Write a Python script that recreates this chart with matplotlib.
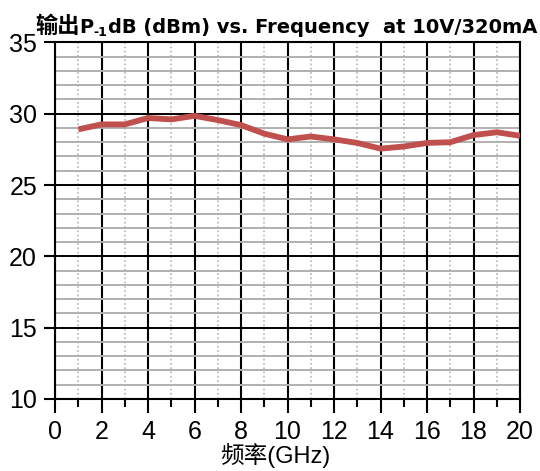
import numpy as np
import matplotlib.pyplot as plt
from matplotlib.ticker import MultipleLocator

# P-1dB readout, 1..20 GHz
freq = [1, 2, 3, 4, 5, 6, 7, 8, 9, 10, 11, 12, 13, 14, 15, 16, 17, 18, 19, 20]
p1db = [28.9, 29.25, 29.25, 29.7, 29.6, 29.85, 29.55, 29.2, 28.6, 28.2,
        28.4, 28.2, 27.95, 27.55, 27.7, 27.95, 28.0, 28.5, 28.7, 28.45]

plt.rcParams['font.family'] = ['Liberation Sans', 'Noto Sans CJK SC', 'DejaVu Sans']

fig = plt.figure(figsize=(5.4, 4.71), dpi=100)
ax = fig.add_axes([0.102, 0.153, 0.861, 0.757])

ax.set_xlim(0, 20)
ax.set_ylim(10, 35)
ax.xaxis.set_major_locator(MultipleLocator(2))
ax.xaxis.set_minor_locator(MultipleLocator(1))
ax.yaxis.set_major_locator(MultipleLocator(5))
ax.yaxis.set_minor_locator(MultipleLocator(1))

# grid
ax.grid(which='minor', axis='y', color='#b0b0b0', lw=1.4)
ax.grid(which='major', axis='y', color='black', lw=1.4)
ax.grid(which='major', axis='x', color='black', lw=1.5)
ax.grid(which='minor', axis='x', color='#b4b4b4', lw=1.1, ls=(0, (1.2, 1.6)))
ax.set_axisbelow(True)

for s in ax.spines.values():
    s.set_linewidth(1.5)

ax.tick_params(axis='x', which='major', direction='out', length=10, width=1.5,
               labelsize=18, pad=5)
ax.tick_params(axis='x', which='minor', direction='out', length=6, width=1.5)
ax.tick_params(axis='y', which='major', direction='out', length=8, width=1.5,
               labelsize=18, pad=5)
ax.tick_params(axis='y', which='minor', length=0)

ax.plot(freq, p1db, color='#c0504d', lw=4.2, solid_joinstyle='round',
        solid_capstyle='butt', zorder=3)

ax.set_xlabel('频率(GHz)', fontsize=17, va='center')
ax.xaxis.set_label_coords(0.473, -0.158)

# title with -1 subscript, built from pieces placed side by side
renderer = fig.canvas.get_renderer()
pieces = [('输出', 16, 0), ('P', 14, 0), ('-1', 9, -3),
          ('dB (dBm) vs. Frequency  at 10V/320mA', 14, 0)]
x_px = 35
base_px = 471 - 33
for txt, size, dy in pieces:
    fam = ['Noto Sans CJK SC', 'DejaVu Sans'] if txt == '输出' else ['DejaVu Sans']
    t = fig.text(x_px / 540, (base_px + dy) / 471, txt, fontsize=size,
                 fontweight='bold', family=fam, va='baseline', ha='left')
    bb = t.get_window_extent(renderer)
    x_px = bb.x1

fig.savefig('out.png', dpi=100)
